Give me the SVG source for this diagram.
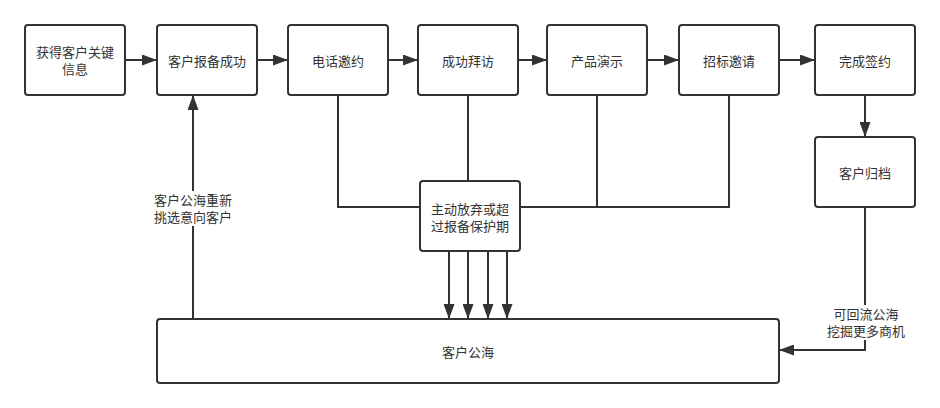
<svg xmlns="http://www.w3.org/2000/svg" width="940" height="408" viewBox="0 0 940 408">
<style>
.box{fill:#fff;stroke:#333;stroke-width:2}
.t{font-family:"Liberation Sans","Noto Sans CJK SC",sans-serif;font-size:13px;fill:#333;text-anchor:middle;dominant-baseline:central}
.c{fill:none;stroke:#333;stroke-width:2}
</style>
<defs>
<marker id="ah" markerWidth="15" markerHeight="11" refX="15" refY="5.5" orient="auto" markerUnits="userSpaceOnUse">
<path d="M0,0 L15,5.5 L0,11 Z" fill="#333"/>
</marker>
</defs>
<g id="connectors">
<line class="c" x1="125" y1="60" x2="157" y2="60" marker-end="url(#ah)"/>
<line class="c" x1="257" y1="60" x2="288" y2="60" marker-end="url(#ah)"/>
<line class="c" x1="388" y1="60" x2="418" y2="60" marker-end="url(#ah)"/>
<line class="c" x1="518" y1="60" x2="547" y2="60" marker-end="url(#ah)"/>
<line class="c" x1="647" y1="60" x2="679" y2="60" marker-end="url(#ah)"/>
<line class="c" x1="779" y1="60" x2="815" y2="60" marker-end="url(#ah)"/>
<line class="c" x1="865" y1="95" x2="865" y2="137" marker-end="url(#ah)"/>
<polyline class="c" points="338,95 338,207 420,207"/>
<line class="c" x1="468" y1="95" x2="468" y2="181"/>
<polyline class="c" points="729,95 729,207 520,207"/>
<line class="c" x1="597" y1="95" x2="597" y2="207"/>
<line class="c" x1="449" y1="251" x2="449" y2="319" marker-end="url(#ah)"/>
<line class="c" x1="468" y1="251" x2="468" y2="319" marker-end="url(#ah)"/>
<line class="c" x1="488" y1="251" x2="488" y2="319" marker-end="url(#ah)"/>
<line class="c" x1="507" y1="251" x2="507" y2="319" marker-end="url(#ah)"/>
<line class="c" x1="193" y1="319" x2="193" y2="95" marker-end="url(#ah)"/>
<polyline class="c" points="865,207 865,350 779,350" marker-end="url(#ah)"/>
<g id="label-left">
<rect x="152" y="191" width="82" height="35" fill="#fff"/>
<text class="t" x="193" y="200">客户公海重新</text>
<text class="t" x="193" y="217">挑选意向客户</text>
</g>
<g id="label-right">
<rect x="825" y="305" width="82" height="35" fill="#fff"/>
<text class="t" x="866" y="314">可回流公海</text>
<text class="t" x="866" y="331">挖掘更多商机</text>
</g>
</g>
<g id="n1"><rect class="box" x="25" y="25" width="100" height="70" rx="3"/><text class="t" x="75" y="52">获得客户关键</text><text class="t" x="75" y="69">信息</text></g>
<g id="n2"><rect class="box" x="157" y="25" width="100" height="70" rx="3"/><text class="t" x="207" y="61">客户报备成功</text></g>
<g id="n3"><rect class="box" x="288" y="25" width="100" height="70" rx="3"/><text class="t" x="338" y="61">电话邀约</text></g>
<g id="n4"><rect class="box" x="418" y="25" width="100" height="70" rx="3"/><text class="t" x="468" y="61">成功拜访</text></g>
<g id="n5"><rect class="box" x="547" y="25" width="100" height="70" rx="3"/><text class="t" x="597" y="61">产品演示</text></g>
<g id="n6"><rect class="box" x="679" y="25" width="100" height="70" rx="3"/><text class="t" x="729" y="61">招标邀请</text></g>
<g id="n7"><rect class="box" x="815" y="25" width="100" height="70" rx="3"/><text class="t" x="865" y="61">完成签约</text></g>
<g id="n8"><rect class="box" x="815" y="137" width="100" height="70" rx="3"/><text class="t" x="865" y="173">客户归档</text></g>
<g id="n9"><rect class="box" x="420" y="181" width="100" height="70" rx="3"/><text class="t" x="470" y="209">主动放弃或超</text><text class="t" x="470" y="226">过报备保护期</text></g>
<g id="n10"><rect class="box" x="157" y="319" width="622" height="64" rx="3"/><text class="t" x="468" y="352">客户公海</text></g>
</svg>
